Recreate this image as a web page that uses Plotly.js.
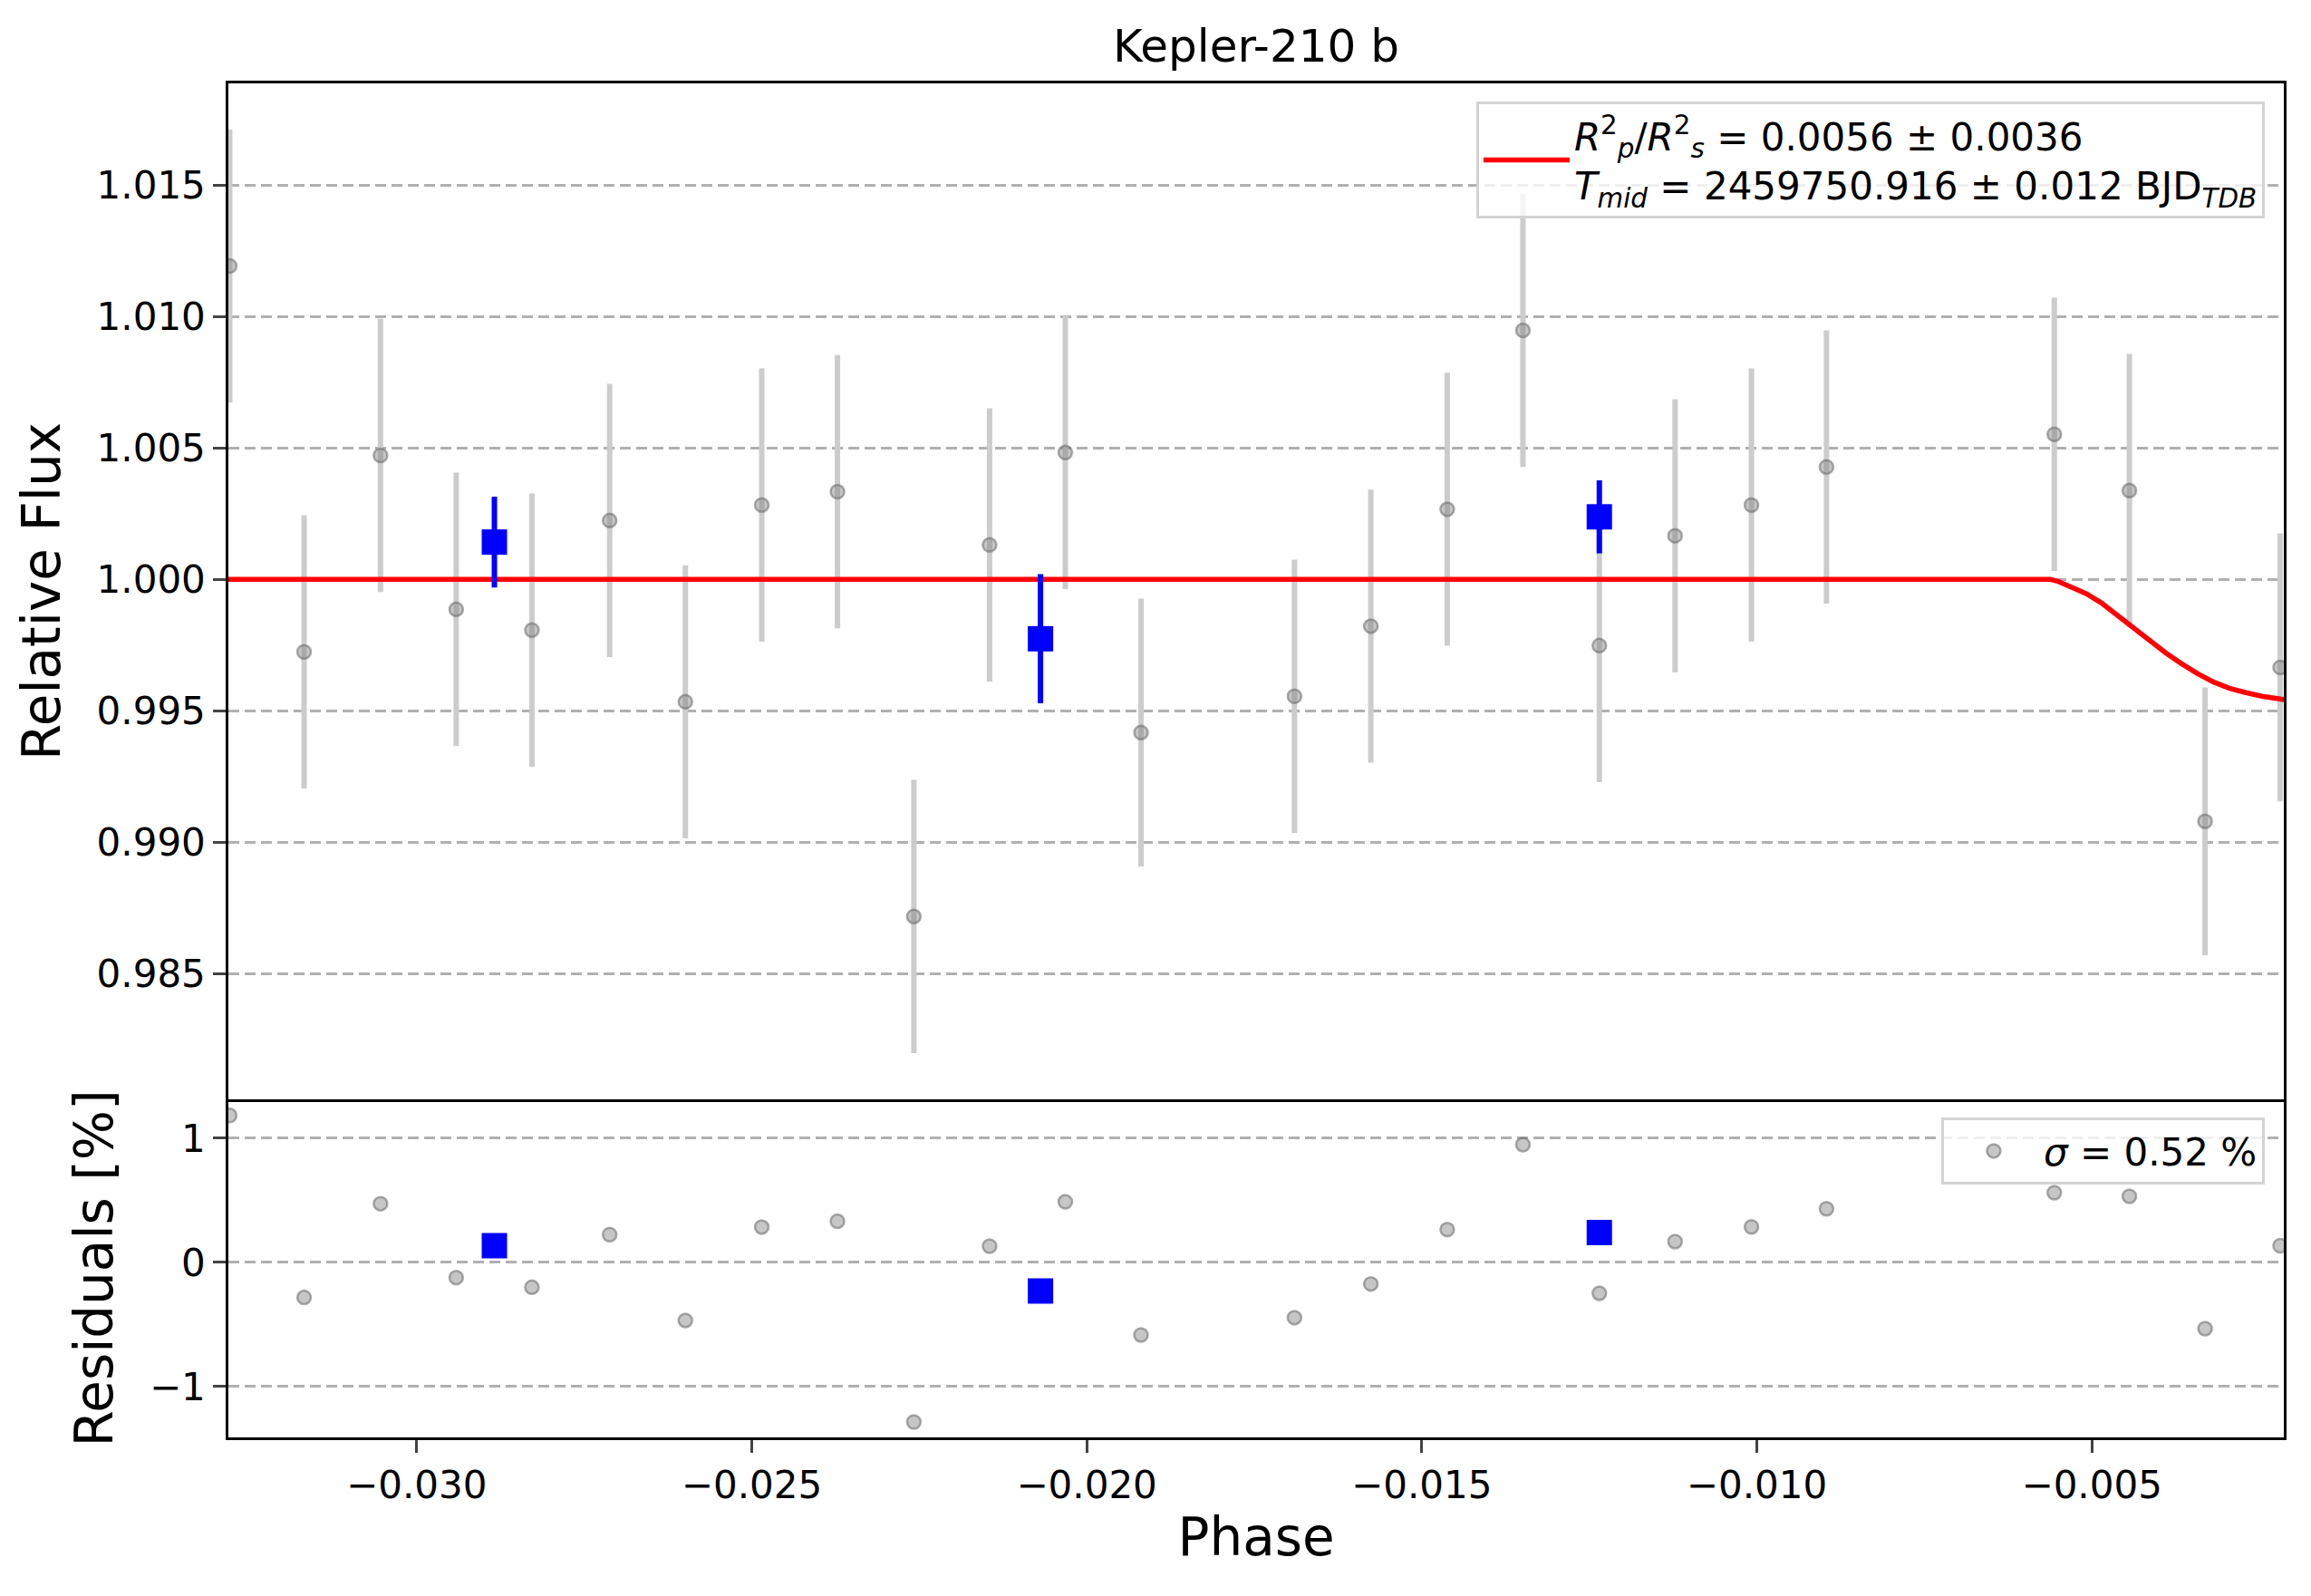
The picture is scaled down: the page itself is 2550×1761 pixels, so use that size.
<!DOCTYPE html>
<html>
<head>
<meta charset="utf-8">
<script src="https://cdn.plot.ly/plotly-3.1.0.min.js"></script>
<style>
  html, body { margin: 0; padding: 0; background: #fff; }
  #plot { width: 2550px; height: 1761px; }
</style>
</head>
<body>
<div id="plot"></div>
<script>
// unbinned phase-folded points (gray)
const phase = [-0.03279, -0.03168, -0.03054, -0.02941, -0.02828, -0.02712, -0.02599,
  -0.02485, -0.02372, -0.02258, -0.02145, -0.02032, -0.01919, -0.01690, -0.01576,
  -0.01462, -0.01349, -0.01235, -0.01122, -0.01008, -0.00896, -0.00556, -0.00444,
  -0.00331, -0.00219];
const flux = [1.01193, 0.99724, 1.00472, 0.99886, 0.99807, 1.00224, 0.99534,
  1.00283, 1.00334, 0.98717, 1.00131, 1.00483, 0.99417, 0.99555, 0.99822,
  1.00267, 1.00948, 0.99748, 1.00166, 1.00283, 1.00428, 1.00552, 1.00338,
  0.99079, 0.99665];
const fluxErr = [0.0052, 0.0052, 0.0052, 0.0052, 0.0052, 0.0052, 0.0052,
  0.0052, 0.0052, 0.0052, 0.0052, 0.0052, 0.0051, 0.0052, 0.0052,
  0.0052, 0.0052, 0.0052, 0.0052, 0.0052, 0.0052, 0.0052, 0.0052,
  0.0051, 0.0051];
const resid = [1.184, -0.282, 0.473, -0.122, -0.200, 0.224, -0.467,
  0.285, 0.332, -1.285, 0.131, 0.489, -0.584, -0.445, -0.173,
  0.265, 0.949, -0.248, 0.168, 0.286, 0.432, 0.562, 0.533,
  -0.533, 0.135];

// binned points (blue)
const binPhase = [-0.02884, -0.02069, -0.01235];
const binFlux = [1.00142, 0.99774, 1.00238];
const binErr = [0.00173, 0.00246, 0.00139];
const binResid = [0.135, -0.230, 0.241];

// transit model (red)
const modelPhase = [-0.0330, -0.00562, -0.00551, -0.00535, -0.00508, -0.00486,
  -0.00462, -0.00438, -0.00414, -0.00390, -0.00366, -0.00342, -0.00318,
  -0.00294, -0.00270, -0.00246, -0.00209];
const modelFlux = [1.0, 1.0, 0.99993, 0.99974, 0.99945, 0.99911,
  0.99863, 0.99812, 0.99764, 0.99721, 0.99679, 0.99641, 0.99609,
  0.99585, 0.99569, 0.99555, 0.99541];

const yTicks = [0.985, 0.990, 0.995, 1.000, 1.005, 1.010, 1.015];
const y2Ticks = [-1, 0, 1];
const xTicks = [-0.030, -0.025, -0.020, -0.015, -0.010, -0.005];

const gray = 'rgba(128,128,128,0.45)';
const grayEdge = 'rgba(105,105,105,0.55)';

const traces = [
  {
    type: 'scatter', mode: 'markers', x: phase, y: flux,
    xaxis: 'x', yaxis: 'y', showlegend: false,
    marker: { size: 15, color: gray, line: { color: grayEdge, width: 2.5 } },
    error_y: { type: 'data', array: fluxErr, visible: true, color: '#cccccc', thickness: 6, width: 0 }
  },
  {
    type: 'scatter', mode: 'lines', x: modelPhase, y: modelFlux,
    xaxis: 'x', yaxis: 'y', legend: 'legend',
    name: '<i>R</i><sup>2</sup><sub><i>p</i></sub>/<i>R</i><sup>2</sup><sub><i>s</i></sub> = 0.0056 ± 0.0036<br>' +
          '<i>T</i><sub><i>mid</i></sub> = 2459750.916 ± 0.012 BJD<sub><i>TDB</i></sub>',
    line: { color: '#ff0000', width: 5.5 }
  },
  {
    type: 'scatter', mode: 'markers', x: binPhase, y: binFlux,
    xaxis: 'x', yaxis: 'y', showlegend: false,
    marker: { symbol: 'square', size: 28, color: '#0000ff' },
    error_y: { type: 'data', array: binErr, visible: true, color: '#0000ff', thickness: 6, width: 0 }
  },
  {
    type: 'scatter', mode: 'markers', x: phase, y: resid,
    xaxis: 'x2', yaxis: 'y2', legend: 'legend2',
    name: '<i>σ</i> = 0.52 %',
    marker: { size: 15, color: gray, line: { color: grayEdge, width: 2.5 } }
  },
  {
    type: 'scatter', mode: 'markers', x: binPhase, y: binResid,
    xaxis: 'x2', yaxis: 'y2', showlegend: false,
    marker: { symbol: 'square', size: 28, color: '#0000ff' }
  }
];

const split = 0.2497;
const xRange = [-0.03281, -0.002135];

const layout = {
  width: 2550, height: 1761,
  paper_bgcolor: '#fff', plot_bgcolor: '#fff',
  font: { family: 'DejaVu Sans', size: 42, color: '#000' },
  margin: { l: 252, r: 30, t: 92, b: 175 },
  title: {
    text: 'Kepler-210 b', font: { family: 'DejaVu Sans', size: 50, color: '#000' },
    x: 0.5, xref: 'paper', y: 1 - 50 / 1761, yref: 'container', yanchor: 'middle'
  },
  xaxis: {
    anchor: 'y', range: xRange, matches: 'x2',
    showticklabels: false, ticks: '', showgrid: false, zeroline: false,
    showline: true, linecolor: '#000', linewidth: 2.5, mirror: true
  },
  yaxis: {
    domain: [split, 1], anchor: 'x', range: [0.98021, 1.01888],
    tickvals: yTicks, tickformat: '.3f', ticks: 'outside', ticklen: 14, tickwidth: 2.5,
    tickfont: { family: 'DejaVu Sans', size: 42, color: '#000' },
    showline: true, linecolor: '#000', linewidth: 2.5, mirror: true, zeroline: false,
    showgrid: true, gridcolor: '#b0b0b0', gridwidth: 2.5, griddash: '12px,6px',
    automargin: false,
    title: { text: 'Relative Flux', font: { family: 'DejaVu Sans', size: 58, color: '#000' }, standoff: 22 }
  },
  xaxis2: {
    anchor: 'y2', range: xRange,
    tickvals: xTicks, tickformat: '.3f', ticks: 'outside', ticklen: 14, tickwidth: 2.5,
    tickfont: { family: 'DejaVu Sans', size: 42, color: '#000' },
    showgrid: false, zeroline: false,
    showline: true, linecolor: '#000', linewidth: 2.5, mirror: false,
    automargin: false,
    title: { text: 'Phase', font: { family: 'DejaVu Sans', size: 58, color: '#000' }, standoff: 14 }
  },
  yaxis2: {
    domain: [0, split], anchor: 'x2', range: [-1.409, 1.314],
    tickvals: y2Ticks, ticks: 'outside', ticklen: 14, tickwidth: 2.5,
    tickfont: { family: 'DejaVu Sans', size: 42, color: '#000' },
    showline: true, linecolor: '#000', linewidth: 2.5, mirror: true, zeroline: false,
    showgrid: true, gridcolor: '#b0b0b0', gridwidth: 2.5, griddash: '12px,6px',
    automargin: false,
    title: { text: 'Residuals [%]', font: { family: 'DejaVu Sans', size: 58, color: '#000' }, standoff: 22 }
  },
  legend: {
    x: 0.9907, xanchor: 'right', y: 0.9863, yanchor: 'top',
    bgcolor: 'rgba(255,255,255,0.8)', bordercolor: '#d3d3d3', borderwidth: 3,
    font: { family: 'DejaVu Sans', size: 42, color: '#000' }, itemwidth: 95
  },
  legend2: {
    x: 0.9907, xanchor: 'right', y: 0.2362, yanchor: 'top',
    bgcolor: 'rgba(255,255,255,0.8)', bordercolor: '#d3d3d3', borderwidth: 3,
    font: { family: 'DejaVu Sans', size: 42, color: '#000' }, itemwidth: 100
  }
};

Plotly.newPlot('plot', traces, layout, { displayModeBar: false, responsive: false });
</script>
</body>
</html>
